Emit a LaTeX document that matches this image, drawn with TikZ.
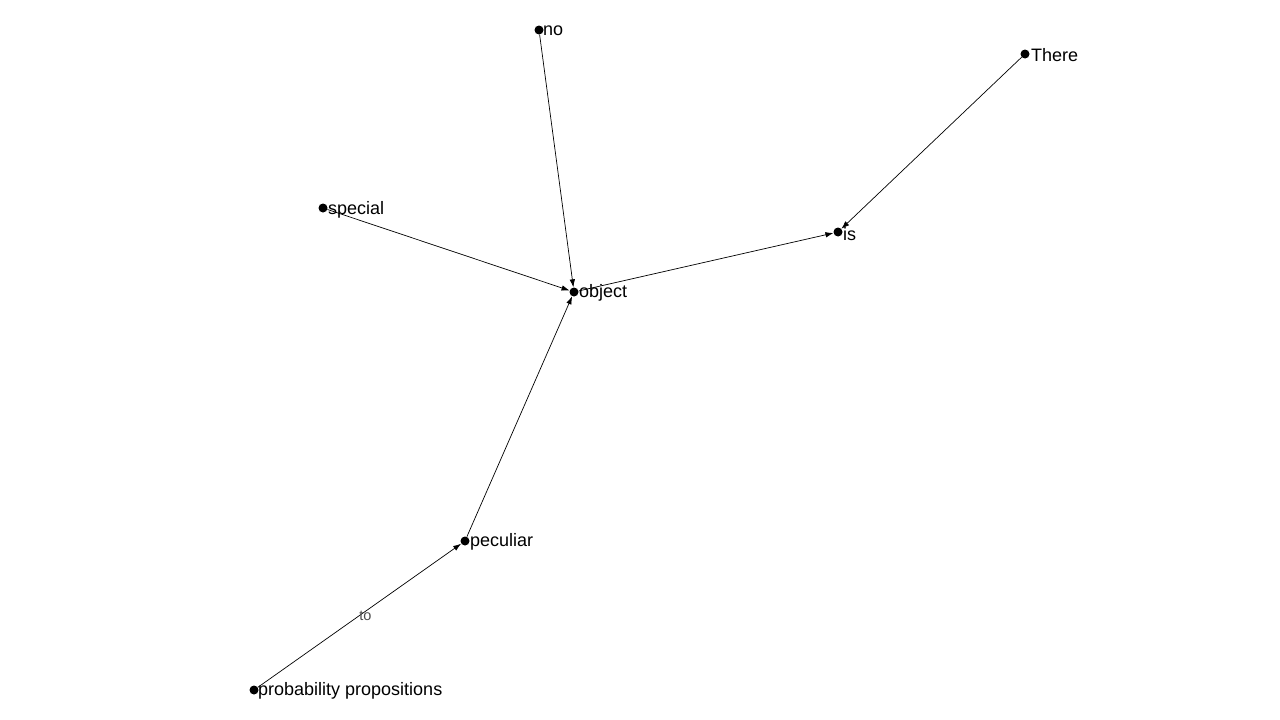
\documentclass[tikz,border=0pt]{standalone}
\usepackage{fontspec}
\setmainfont{Liberation Sans}
\usetikzlibrary{arrows.meta}
\begin{document}
\begin{tikzpicture}[x=1pt,y=-1pt,
  dot/.style={circle,fill=black,inner sep=0pt,minimum size=9pt},
  lab/.style={anchor=west,inner sep=0pt,font=\fontsize{18}{20}\selectfont},
  edge/.style={draw=black,line width=0.7pt,-{Latex[length=8pt,width=5.5pt]}},
  elab/.style={font=\fontsize{14.5}{16}\selectfont,text=black!70,inner sep=1pt}]
\useasboundingbox (0,0) rectangle (1280,720);
\node[dot] (no) at (539,30) {};
\node[dot] (there) at (1025,54) {};
\node[dot] (special) at (323,208) {};
\node[dot] (is) at (838,232) {};
\node[dot] (object) at (574,292) {};
\node[dot] (peculiar) at (465,541) {};
\node[dot] (prob) at (254,690) {};
\node[lab] (lno) at (543,31) {no};
\node[lab] (lthere) at (1031,55) {There};
\node[lab] (lspecial) at (328,210) {special};
\node[lab] (lis) at (843,234) {is};
\node[lab] (lobject) at (579,293) {object};
\node[lab] (lpeculiar) at (470,542) {peculiar};
\node[lab] (lprob) at (258,691) {probability propositions};
\draw[edge] (no) -- (object);
\draw[edge] (special) -- (object);
\draw[edge] (object) -- (is);
\draw[edge] (there) -- (is);
\draw[edge] (peculiar) -- (object);
\draw[edge] (prob) -- node[elab,xshift=6pt] (lto) {to} (peculiar);
\end{tikzpicture}
\end{document}
